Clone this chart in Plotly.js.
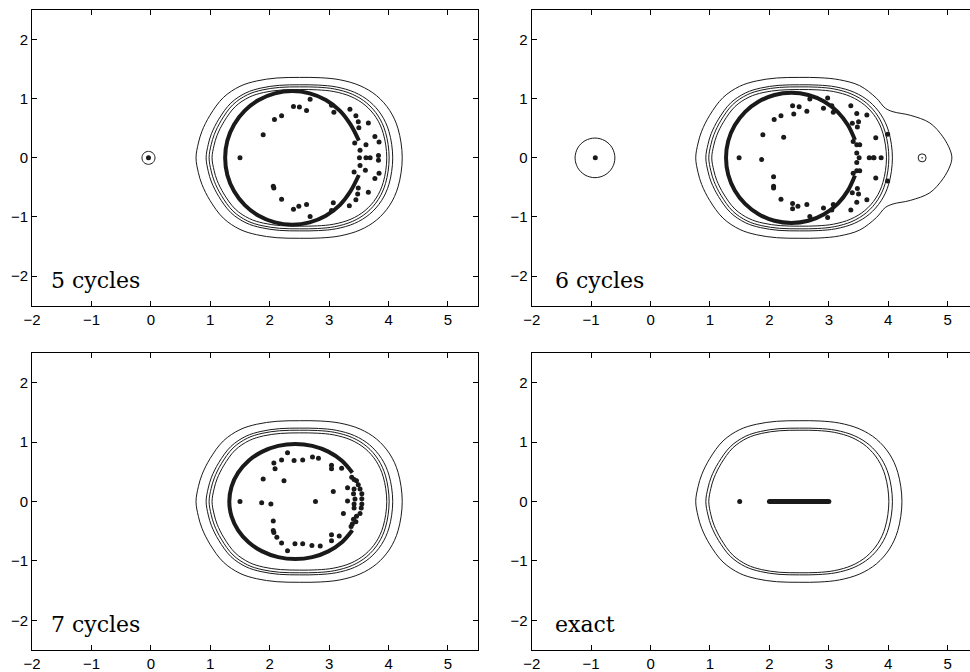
<!DOCTYPE html>
<html><head><meta charset="utf-8">
<script src="https://cdn.plot.ly/plotly-3.0.1.min.js"></script>
<style>html,body{margin:0;padding:0;overflow:hidden;background:#fff;} #chart{width:980px;height:672px;}</style>
</head><body><div id="chart"></div>
<script>
const xTicks = [-2,-1,0,1,2,3,4,5];
const yTicks = [-2,-1,0,1,2];
const panelLabels = ['5 cycles','6 cycles','7 cycles','exact'];

// level curves, closed, clockwise from the top middle
const contourAX = [2.50,2.85,3.18,3.52,3.80,4.02,4.16,4.23,4.16,4.02,3.80,3.52,3.18,2.85,2.50,2.12,1.78,1.50,1.22,0.995,0.86,0.80,0.76,0.80,0.86,0.995,1.22,1.50,1.78,2.12,2.50];
const contourAY = [1.36,1.355,1.32,1.22,1.05,0.80,0.49,0,-0.49,-0.80,-1.05,-1.22,-1.32,-1.355,-1.36,-1.35,-1.30,-1.21,-1.02,-0.72,-0.45,-0.25,0,0.25,0.45,0.72,1.02,1.21,1.30,1.35,1.36];
const contourBX = [2.505,2.821,3.120,3.428,3.681,3.880,4.007,4.070,4.007,3.880,3.681,3.428,3.120,2.821,2.505,2.161,1.853,1.600,1.346,1.143,1.020,0.966,0.930,0.966,1.020,1.143,1.346,1.600,1.853,2.161,2.505];
const contourBY = [1.235,1.230,1.199,1.108,0.953,0.726,0.445,0,-0.445,-0.726,-0.953,-1.108,-1.199,-1.230,-1.235,-1.226,-1.180,-1.099,-0.926,-0.654,-0.409,-0.227,0,0.227,0.409,0.654,0.926,1.099,1.180,1.226,1.235];
const contourCX = [2.499,2.805,3.093,3.390,3.634,3.826,3.949,4.010,3.949,3.826,3.634,3.390,3.093,2.805,2.499,2.168,1.871,1.626,1.382,1.186,1.068,1.015,0.980,1.015,1.068,1.186,1.382,1.626,1.871,2.168,2.499];
const contourCY = [1.200,1.195,1.164,1.076,0.926,0.706,0.432,0,-0.432,-0.706,-0.926,-1.076,-1.164,-1.195,-1.200,-1.191,-1.147,-1.067,-0.900,-0.635,-0.397,-0.221,0,0.221,0.397,0.635,0.900,1.067,1.147,1.191,1.200];
const contourDX = [2.504,2.801,3.080,3.368,3.605,3.792,3.910,3.970,3.910,3.792,3.605,3.368,3.080,2.801,2.504,2.182,1.894,1.657,1.420,1.230,1.115,1.064,1.030,1.064,1.115,1.230,1.420,1.657,1.894,2.182,2.504];
const contourDY = [1.155,1.150,1.121,1.036,0.891,0.679,0.416,0,-0.416,-0.679,-0.891,-1.036,-1.121,-1.150,-1.155,-1.146,-1.104,-1.027,-0.866,-0.611,-0.382,-0.212,0,0.212,0.382,0.611,0.866,1.027,1.104,1.146,1.155];
const bulgeX = [2.50,2.85,3.18,3.52,3.80,3.95,4.08,4.37,4.70,4.92,5.04,5.07,5.04,4.92,4.70,4.37,4.08,3.95,3.80,3.52,3.18,2.85,2.50,2.12,1.78,1.50,1.22,0.995,0.86,0.80,0.76,0.80,0.86,0.995,1.22,1.50,1.78,2.12,2.50];
const bulgeY = [1.36,1.355,1.32,1.22,1.01,0.84,0.78,0.72,0.59,0.355,0.135,0,-0.135,-0.355,-0.59,-0.72,-0.78,-0.84,-1.01,-1.22,-1.32,-1.355,-1.36,-1.35,-1.30,-1.21,-1.02,-0.72,-0.45,-0.25,0,0.25,0.45,0.72,1.02,1.21,1.30,1.35,1.36];
const p1RingX = [-0.04,-0.118,-0.15,-0.118,-0.04,0.038,0.07,0.038,-0.04];
const p1RingY = [0.11,0.078,0,-0.078,-0.11,-0.078,0,0.078,0.11];
const p2RingX = [-0.935,-1.103,-1.225,-1.270,-1.225,-1.103,-0.935,-0.768,-0.645,-0.600,-0.645,-0.768,-0.935];
const p2RingY = [0.335,0.290,0.168,0,-0.168,-0.290,-0.335,-0.290,-0.168,0,0.168,0.290,0.335];

// dense Ritz-value arcs
const p1ArcX = [3.50,3.359,3.179,2.945,2.672,2.38,2.088,1.815,1.581,1.401,1.288,1.25,1.288,1.401,1.581,1.815,2.088,2.38,2.672,2.945,3.179,3.359,3.50];
const p1ArcY = [0.29,0.565,0.799,0.979,1.091,1.13,1.091,0.979,0.799,0.565,0.293,0,-0.293,-0.565,-0.799,-0.979,-1.091,-1.13,-1.091,-0.979,-0.799,-0.565,-0.29];
const p2ArcX = [3.44,3.323,3.148,2.92,2.655,2.37,2.085,1.82,1.592,1.417,1.307,1.27,1.307,1.417,1.592,1.82,2.085,2.37,2.655,2.92,3.148,3.323,3.44];
const p2ArcY = [0.30,0.55,0.778,0.953,1.063,1.10,1.063,0.953,0.778,0.55,0.285,0,-0.285,-0.55,-0.778,-0.953,-1.063,-1.10,-1.063,-0.953,-0.778,-0.55,-0.30];
const p3ArcX = [3.391,3.215,2.985,2.717,2.43,2.143,1.875,1.645,1.469,1.358,1.32,1.358,1.469,1.645,1.875,2.143,2.43,2.717,2.985,3.215,3.391];
const p3ArcY = [0.485,0.686,0.840,0.937,0.97,0.937,0.840,0.686,0.485,0.251,0,-0.251,-0.485,-0.686,-0.840,-0.937,-0.97,-0.937,-0.840,-0.686,-0.485];
const exactSegX = [2,3];
const exactSegY = [0,0];

// isolated Ritz values
const p1DotsX = [1.50,1.89,2.08,2.20,2.40,2.50,2.62,2.68,3.04,3.08,3.35,3.45,3.49,3.50,3.66,3.77,3.84,3.43,3.62,3.52,3.51,3.62,3.69,3.83,3.83,2.06,2.07,2.20,2.40,2.49,2.62,2.68,3.04,3.07,3.34,3.45,3.48,3.49,3.66,3.77,3.84,3.42,3.61,3.52,-0.04];
const p1DotsY = [0,0.39,0.65,0.71,0.87,0.86,0.80,0.99,0.89,0.77,0.82,0.71,0.61,0.51,0.59,0.36,0.27,0.25,0.22,0.13,0,0,0,0.04,-0.04,-0.48,-0.51,-0.70,-0.87,-0.82,-0.79,-0.99,-0.89,-0.76,-0.81,-0.71,-0.61,-0.51,-0.58,-0.35,-0.26,-0.24,-0.21,-0.13,0];
const p2DotsX = [1.49,1.87,1.89,2.24,2.08,2.195,2.39,2.41,2.50,2.63,2.68,2.98,2.91,3.05,3.075,3.37,3.47,3.64,3.50,3.395,3.48,3.79,3.99,3.41,3.47,3.52,3.47,3.51,3.68,3.75,3.76,3.88,3.47,3.47,3.52,3.41,3.79,3.99,3.48,3.395,3.50,3.47,3.64,3.37,3.075,3.05,2.91,2.98,2.68,2.63,2.48,2.39,2.39,2.195,2.07,2.07,2.07,-0.93];
const p2DotsY = [0,-0.03,0.39,0.35,0.65,0.71,0.88,0.74,0.865,0.79,0.995,1.01,0.84,0.88,0.77,0.88,0.75,0.725,0.61,0.585,0.52,0.34,0.40,0.275,0.22,0.22,0.08,0,0,0,0,0,-0.08,-0.22,-0.22,-0.26,-0.34,-0.39,-0.52,-0.59,-0.61,-0.75,-0.71,-0.88,-0.79,-0.88,-0.85,-1.01,-0.99,-0.79,-0.82,-0.77,-0.86,-0.70,-0.32,-0.48,-0.51,0];
const p2PoleX = [4.57];
const p2PoleY = [0];
const p3DotsX = [1.50,1.865,2.02,2.77,1.89,2.24,2.07,2.09,2.20,2.30,2.41,2.555,2.72,2.82,3.04,3.04,3.21,3.07,3.31,3.31,3.24,3.38,3.42,3.46,3.49,3.52,3.42,3.55,3.41,3.55,3.435,3.55,3.42,3.54,3.42,3.52,3.46,3.41,3.45,3.39,3.37,2.06,2.06,2.07,2.12,2.20,2.30,2.425,2.555,2.71,2.85,3.04,3.04,3.17];
const p3DotsY = [0,-0.02,-0.04,0,0.38,0.35,0.65,0.55,0.70,0.82,0.69,0.70,0.75,0.73,0.61,0.55,0.56,0.17,0.23,0.01,-0.20,0.41,0.37,0.35,0.28,0.21,0.21,0.13,0.13,0.045,0.04,-0.04,-0.04,-0.11,-0.11,-0.20,-0.25,-0.30,-0.34,-0.38,-0.42,-0.33,-0.49,-0.52,-0.60,-0.70,-0.83,-0.71,-0.71,-0.74,-0.75,-0.56,-0.66,-0.58];
const p4DotsX = [1.50];
const p4DotsY = [0];

const INK = '#1a1a1a';
const suf = ['', '2', '3', '4'];
const traces = [];
function curve(xs, ys, p, w, sm) {
  traces.push({type:'scatter', mode:'lines', x:xs, y:ys, xaxis:'x'+suf[p], yaxis:'y'+suf[p],
    line:{color:INK, width:w, shape:'spline', smoothing:sm}, hoverinfo:'skip', showlegend:false});
}
function dots(xs, ys, p, size, symbol) {
  traces.push({type:'scatter', mode:'markers', x:xs, y:ys, xaxis:'x'+suf[p], yaxis:'y'+suf[p],
    marker:{color:INK, size:size, symbol:symbol||'circle', line:{width:symbol?1:0, color:INK}}, hoverinfo:'skip', showlegend:false});
}
// panel 1
[[contourAX,contourAY],[contourBX,contourBY],[contourCX,contourCY],[contourDX,contourDY]].forEach(c=>curve(c[0],c[1],0,1,1));
curve(p1RingX,p1RingY,0,1,1);
curve(p1ArcX,p1ArcY,0,4,1);
dots(p1DotsX,p1DotsY,0,5);
// panel 2
curve(bulgeX,bulgeY,1,1,1);
[[contourBX,contourBY],[contourCX,contourCY],[contourDX,contourDY]].forEach(c=>curve(c[0],c[1],1,1,1));
curve(p2RingX,p2RingY,1,1,1);
curve(p2ArcX,p2ArcY,1,4,1);
dots(p2DotsX,p2DotsY,1,5);
dots(p2PoleX,p2PoleY,1,8,'circle-open-dot');
// panel 3
[[contourAX,contourAY],[contourBX,contourBY],[contourCX,contourCY],[contourDX,contourDY]].forEach(c=>curve(c[0],c[1],2,1,1));
curve(p3ArcX,p3ArcY,2,4,1);
dots(p3DotsX,p3DotsY,2,5);
// panel 4
[[contourAX,contourAY],[contourBX,contourBY],[contourCX,contourCY]].forEach(c=>curve(c[0],c[1],3,1,1));
traces.push({type:'scatter', mode:'lines+markers', x:exactSegX, y:exactSegY, xaxis:'x4', yaxis:'y4',
  line:{color:INK, width:5}, marker:{color:INK, size:5}, hoverinfo:'skip', showlegend:false});
dots(p4DotsX,p4DotsY,3,5);

const W = 980, H = 672;
const xDom = [[32/W, 477.7/W],[531.7/W, 977.4/W]];
const yDom = [[1-305.7/H, 1-10/H],[1-650/H, 1-353/H]];
const tickFont = {family:'Liberation Sans, Arial, sans-serif', size:15, color:'#000'};
function xax(dom, anchor) {
  return {domain:dom, range:[-2,5.5], tickvals:xTicks, ticks:'inside', ticklen:5, tickcolor:'#000',
    showline:true, linecolor:'#000', linewidth:1, mirror:'ticks', showgrid:false, zeroline:false,
    tickfont:tickFont, anchor:anchor, fixedrange:true};
}
function yax(dom, anchor) {
  return {domain:dom, range:[-2.5,2.5], tickvals:yTicks, ticks:'inside', ticklen:5, tickcolor:'#000',
    showline:true, linecolor:'#000', linewidth:1, mirror:'ticks', showgrid:false, zeroline:false,
    tickfont:tickFont, anchor:anchor, fixedrange:true};
}
const layout = {
  width:W, height:H, margin:{l:0,r:0,t:0,b:0}, paper_bgcolor:'#fff', plot_bgcolor:'#fff', showlegend:false,
  xaxis: xax(xDom[0], 'y'), yaxis: yax(yDom[0], 'x'),
  xaxis2: xax(xDom[1], 'y2'), yaxis2: yax(yDom[0], 'x2'),
  xaxis3: xax(xDom[0], 'y3'), yaxis3: yax(yDom[1], 'x3'),
  xaxis4: xax(xDom[1], 'y4'), yaxis4: yax(yDom[1], 'x4'),
  annotations: panelLabels.map((t,i)=>({text:t, x:(i%2===0)?-1.71:-1.64, y:-2.07, xref:'x'+suf[i], yref:'y'+suf[i],
    xanchor:'left', yanchor:'middle', showarrow:false, font:{family:'DejaVu Serif, serif', size:22, color:'#000'}}))
};
Plotly.newPlot('chart', traces, layout, {staticPlot:true, displayModeBar:false});
</script>
</body></html>
